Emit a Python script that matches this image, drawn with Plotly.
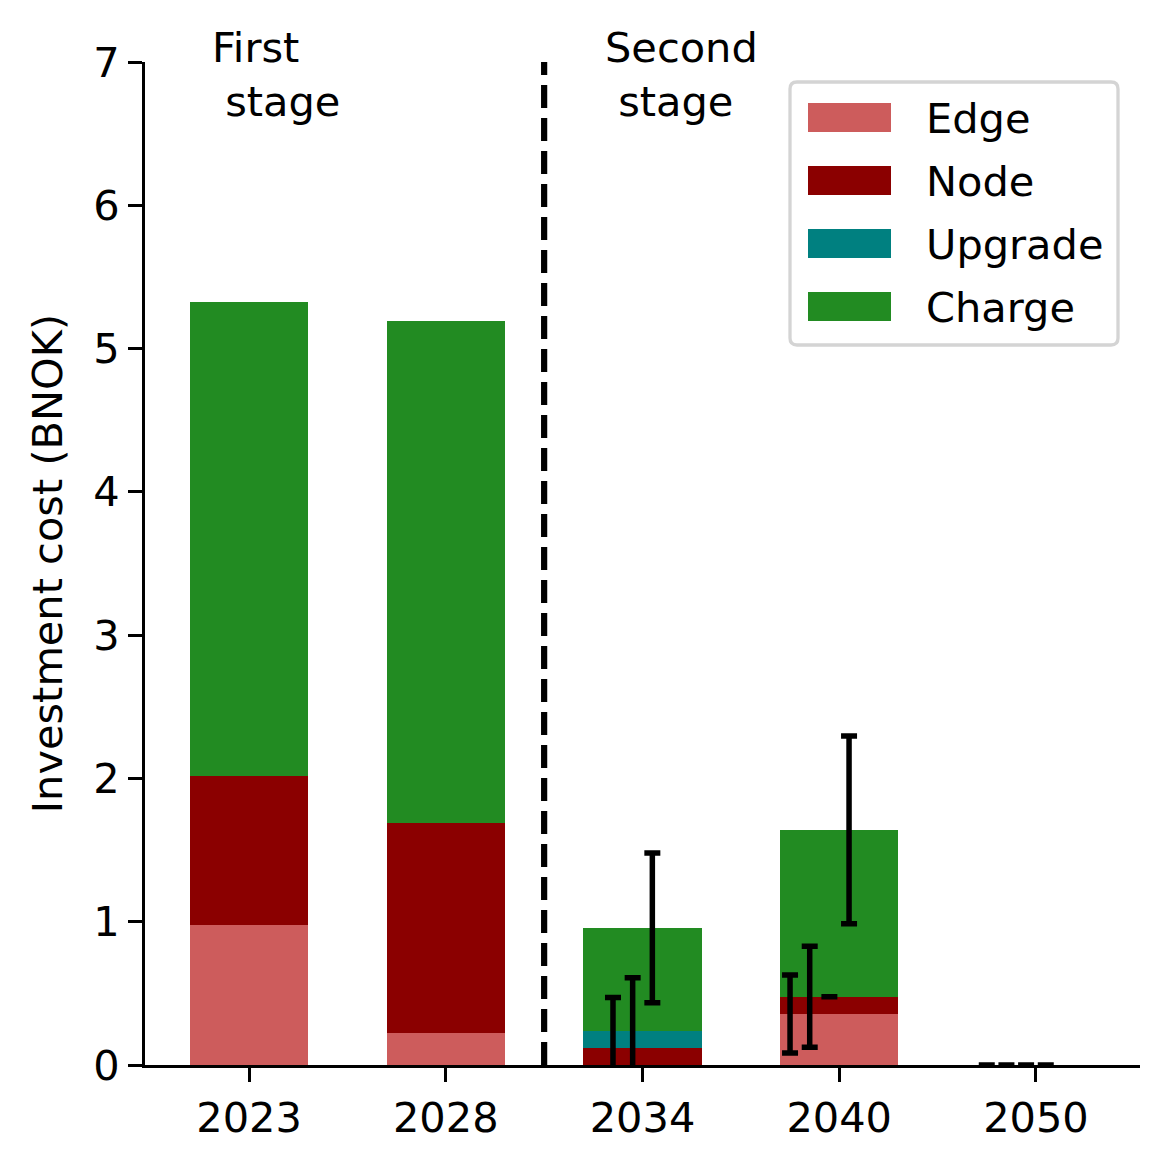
import numpy as np
import plotly.graph_objects as go

# ---------------- data ----------------
years = ["2023", "2028", "2034", "2040", "2050"]
components = ["Edge", "Node", "Upgrade", "Charge"]
edge = [0.98, 0.22, 0.0, 0.356, 0.0]
node = [1.04, 1.47, 0.12, 0.12, 0.0]
upgrade = [0.0, 0.0, 0.117, 0.0, 0.0]
charge = [3.305, 3.50, 0.72, 1.165, 0.0]
edge_err = [None, None, None, 0.272, 0.0]
node_err = [None, None, 0.351, 0.352, 0.0]
upgrade_err = [None, None, 0.372, 0.0, 0.0]
charge_err = [None, None, 0.523, 0.655, 0.0]
stage_labels = ["First<br>\u00a0stage", "Second<br>\u00a0stage"]
y_ticks = [0, 1, 2, 3, 4, 5, 6, 7]

# ---------------- styles ----------------
colors = ["#CD5C5C", "#8B0000", "#008080", "#228B22"]
err_offsets = [-0.25, -0.15, -0.05, 0.05]
FONT = "DejaVu Sans"
FS = 41.5
# page has an 8px body margin; figure sized so plot area lands where the reference has it
W, H = 1162, 1158
ML, MR, MT, MB = 137, 30, 54, 101

values = [edge, node, upgrade, charge]
errors = [edge_err, node_err, upgrade_err, charge_err]
xpos = np.arange(len(years), dtype=float)
tops = np.cumsum(np.array(values, dtype=float), axis=0)

fig = go.Figure()
for name, vals, col in zip(components, values, colors):
    fig.add_trace(go.Bar(x=xpos, y=vals, name=name, marker=dict(color=col, line=dict(width=0)),
                         width=0.6, showlegend=False))

for k, (name, errs) in enumerate(zip(components, errors)):
    xs, ys, es = [], [], []
    for i, e in enumerate(errs):
        if e is None:
            continue
        xs.append(xpos[i] + err_offsets[k])
        ys.append(tops[k][i])
        es.append(e)
    fig.add_trace(go.Scatter(x=xs, y=ys, mode="markers",
                             marker=dict(size=1, color="rgba(0,0,0,0)"),
                             error_y=dict(type="data", array=es, visible=True, color="black",
                                          thickness=5.5, width=8),
                             showlegend=False, hoverinfo="skip", cliponaxis=True))

# stage divider
fig.add_shape(type="line", x0=1.5, x1=1.5, y0=0, y1=7, xref="x", yref="y",
              line=dict(color="black", width=6.2, dash="23px,10px"))

# stage labels
for lbl, xx in zip(stage_labels, [-0.2, 1.8]):
    fig.add_annotation(x=xx, y=6.91, xref="x", yref="y", text=lbl, showarrow=False,
                       xanchor="left", yanchor="middle", align="left",
                       font=dict(family=FONT, size=FS, color="black"))

# manual legend (matplotlib-style); coordinates measured in screen pixels
PL, PR, PT, PB = 145, 1140, 62, 1065
def px(x):
    return (x - PL) / (PR - PL)
def py(y):
    return (PB - y) / (PB - PT)

x0, x1, y0, y1 = 790, 1118, 82, 345
r = 7
rx, ry = r / (PR - PL), r / (PB - PT)
path = (f"M{px(x0)+rx},{py(y0)} L{px(x1)-rx},{py(y0)} Q{px(x1)},{py(y0)} {px(x1)},{py(y0)-ry} "
        f"L{px(x1)},{py(y1)+ry} Q{px(x1)},{py(y1)} {px(x1)-rx},{py(y1)} "
        f"L{px(x0)+rx},{py(y1)} Q{px(x0)},{py(y1)} {px(x0)},{py(y1)+ry} "
        f"L{px(x0)},{py(y0)-ry} Q{px(x0)},{py(y0)} {px(x0)+rx},{py(y0)} Z")
fig.add_shape(type="path", path=path, xref="paper", yref="paper",
              line=dict(color="#d4d4d4", width=3.3), fillcolor="rgba(255,255,255,0.8)")
for i, (name, col) in enumerate(zip(components, colors)):
    top = 103 + 63 * i
    fig.add_shape(type="rect", xref="paper", yref="paper",
                  x0=px(808), x1=px(891), y0=py(top), y1=py(top + 29),
                  fillcolor=col, line=dict(width=0))
    fig.add_annotation(x=px(924), y=py(top + 15), xref="paper", yref="paper", text=name,
                       showarrow=False, xanchor="left", yanchor="middle",
                       font=dict(family=FONT, size=FS, color="black"))

fig.update_layout(
    width=W, height=H,
    margin=dict(l=ML, r=MR, t=MT, b=MB),
    paper_bgcolor="white", plot_bgcolor="white",
    barmode="relative", bargap=0,
    font=dict(family=FONT, size=FS, color="black"),
    showlegend=False,
)
fig.update_xaxes(range=[-0.529, 4.529], tickvals=list(xpos), ticktext=years,
                 showline=True, linecolor="black", linewidth=3.3,
                 ticks="outside", ticklen=14, tickwidth=3.3, tickcolor="black",
                 showgrid=False, zeroline=False,
                 tickfont=dict(family=FONT, size=FS, color="black"))
fig.update_yaxes(range=[0, 7], tickvals=y_ticks,
                 showline=True, linecolor="black", linewidth=3.3,
                 ticks="outside", ticklen=14, tickwidth=3.3, tickcolor="black",
                 showgrid=False, zeroline=False,
                 tickfont=dict(family=FONT, size=FS, color="black"),
                 title=dict(text="Investment cost (BNOK)", standoff=18,
                            font=dict(family=FONT, size=FS, color="black")))

fig.write_html("out.html")
